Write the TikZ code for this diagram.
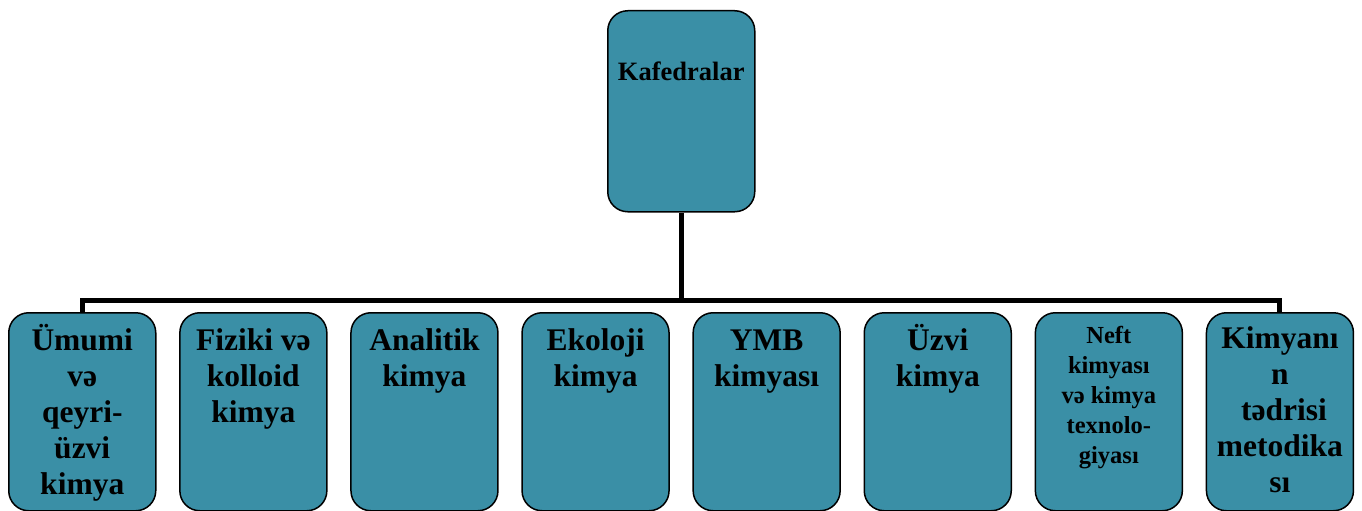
\documentclass[tikz,border=0pt]{standalone}
\usepackage{fontspec}
\setmainfont{Liberation Serif}
\definecolor{boxfill}{RGB}{58,143,166}
\newcommand{\firstline}[1]{\rule{0pt}{#1}}
\tikzset{
  box/.style={draw=black, line width=1.5pt, fill=boxfill, rounded corners=20pt,
    minimum width=147pt, minimum height=198pt, inner sep=0pt, anchor=north west},
  topbox/.style={box, minimum height=201pt},
  lbl/.style={align=center, anchor=north, inner sep=0pt, font=\bfseries\fontsize{31.5}{36}\selectfont},
  lblsmall/.style={lbl, font=\bfseries\fontsize{24.5}{30}\selectfont},
  lbltop/.style={lbl, font=\bfseries\fontsize{26.5}{30}\selectfont},
  conn/.style={draw=black, line width=5pt}
}
\begin{document}
\begin{tikzpicture}[x=1pt, y=-1pt]
\useasboundingbox (0,0) rectangle (1362,511);
\clip (0,0) rectangle (1362,511);
% top box
\node[topbox] (top) at (607,10) {};
\node[lbltop] (ttop) at ([yshift=-45pt]top.north) {\firstline{25pt}Kafedralar};
% bottom boxes
\foreach \i in {1,...,8} {
  \node[box] (b\i) at ({8+171.1*(\i-1)},312) {};
}
\node[lbl] (t1) at ([yshift=-8pt]b1.north) {\firstline{30pt}Ümumi\\və\\qeyri-\\üzvi\\kimya};
\node[lbl] (t2) at ([yshift=-8pt]b2.north) {\firstline{30pt}Fiziki və\\kolloid\\kimya};
\node[lbl] (t3) at ([yshift=-8pt]b3.north) {\firstline{30pt}Analitik\\kimya};
\node[lbl] (t4) at ([yshift=-8pt]b4.north) {\firstline{30pt}Ekoloji\\kimya};
\node[lbl] (t5) at ([yshift=-8pt]b5.north) {\firstline{30pt}YMB\\kimyası};
\node[lbl] (t6) at ([yshift=-8pt]b6.north) {\firstline{30pt}Üzvi\\kimya};
\node[lblsmall] (t7) at ([yshift=-7pt]b7.north) {\firstline{24pt}Neft\\kimyası\\və kimya\\texnolo-\\giyası};
\node[lbl] (t8) at ([yshift=-6pt]b8.north) {\firstline{30pt}Kimyanı\\n\\~tədrisi\\metodika\\sı};
% connectors
\coordinate (bar) at (top.south |- 0,300);
\draw[conn] (top.south) -- (bar);
\draw[conn] (b1.north) |- (bar) -| (b8.north);
\end{tikzpicture}
\end{document}
